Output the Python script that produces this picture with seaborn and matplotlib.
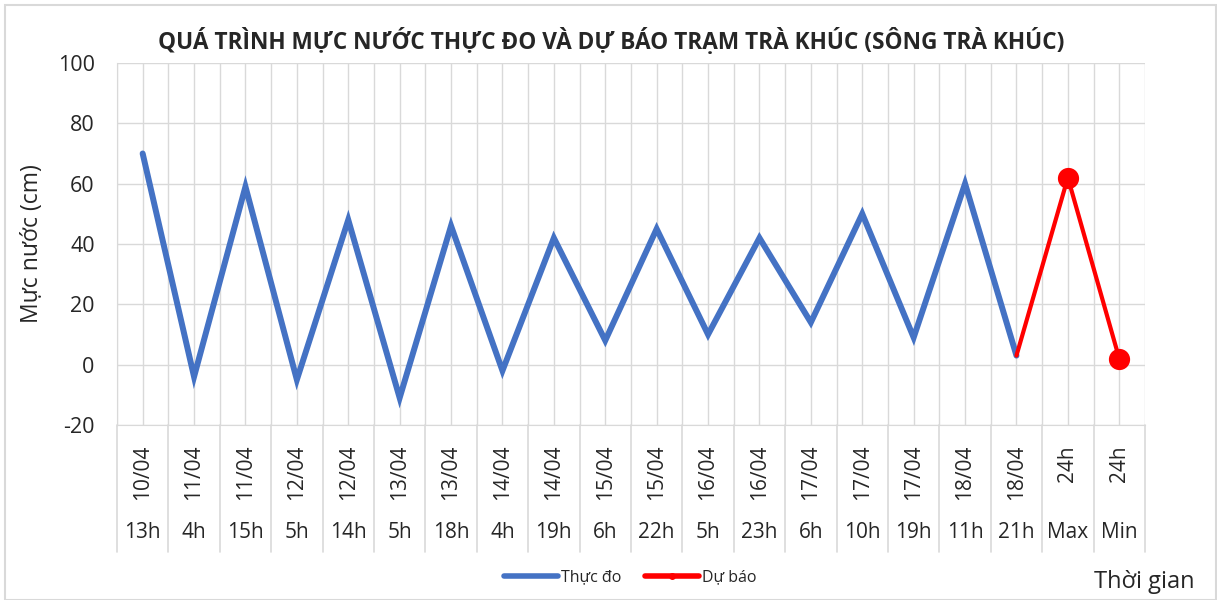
import pandas as pd
import matplotlib.pyplot as plt
import seaborn as sns
from matplotlib.lines import Line2D
from matplotlib.patches import Rectangle

# data
dates = ['10/04', '11/04', '11/04', '12/04', '12/04', '13/04', '13/04', '14/04', '14/04', '15/04',
         '15/04', '16/04', '16/04', '17/04', '17/04', '17/04', '18/04', '18/04', '24h', '24h']
hours = ['13h', '4h', '15h', '5h', '14h', '5h', '18h', '4h', '19h', '6h',
         '22h', '5h', '23h', '6h', '10h', '19h', '11h', '21h', 'Max', 'Min']
observed = [70, -4, 59, -5, 48, -11, 46, -2, 42, 8, 45, 10, 42, 14, 50, 9, 60, 3]
forecast = [3, 62, 2]

obs = pd.DataFrame({'x': range(len(observed)), 'y': observed})
fc = pd.DataFrame({'x': range(len(observed) - 1, len(dates)), 'y': forecast})

sns.set_style('white')
plt.rcParams['font.family'] = ['Open Sans', 'DejaVu Sans']
plt.rcParams['axes.unicode_minus'] = False

fig = plt.figure(figsize=(12.17, 6), dpi=100)
ax = fig.add_axes([0.0961, 0.2917, 0.8447, 0.6033])

blue = '#4472C4'
red = '#FF0000'
txt = '#262626'
sns.lineplot(data=obs, x='x', y='y', ax=ax, color=blue, lw=4.3, solid_capstyle='round',
             solid_joinstyle='miter')
sns.lineplot(data=fc, x='x', y='y', ax=ax, color=red, lw=3, solid_capstyle='round')
sns.scatterplot(data=fc.iloc[1:], x='x', y='y', ax=ax, color=red, s=200, edgecolor=red, zorder=5)

ax.set_xlim(-0.5, len(dates) - 0.5)
ax.set_ylim(-20, 100)
ax.set_yticks(range(-20, 101, 20))
ax.set_xticks(range(len(dates)))
ax.set_xticks([i - 0.5 for i in range(len(dates) + 1)], minor=True)
ax.set_xticklabels([])
ax.tick_params(axis='x', which='both', length=0)
ax.tick_params(axis='y', length=0, labelsize=15.5, pad=16, labelcolor=txt)
ax.grid(True, which='both', color='#d9d9d9', lw=1)
ax.set_axisbelow(True)
for s in ['top', 'right']:
    ax.spines[s].set_visible(False)
for s in ['left', 'bottom']:
    ax.spines[s].set_color('#d9d9d9')
ax.set_xlabel('')
ax.set_ylabel('Mực nước (cm)', fontsize=16.5, labelpad=10, color=txt)

# two-level category labels
trans = ax.get_xaxis_transform()
for i, (d, h) in enumerate(zip(dates, hours)):
    ax.text(i, -0.055, d, rotation=90, ha='center', va='top', fontsize=15,
            transform=trans, color=txt)
    ax.text(i, -0.298, h, ha='center', va='center', fontsize=15, transform=trans,
            color=txt)
for i in range(len(dates) + 1):
    ax.add_line(Line2D([i - 0.5, i - 0.5], [0, -0.351], transform=trans, color='#d9d9d9',
                       lw=1.2, clip_on=False))

fig.text(0.502, 0.93, 'QUÁ TRÌNH MỰC NƯỚC THỰC ĐO VÀ DỰ BÁO TRẠM TRÀ KHÚC (SÔNG TRÀ KHÚC)',
         ha='center', va='center', fontsize=16.3, fontweight='bold')
fig.text(0.94, 0.03, 'Thời gian', ha='center', va='center', fontsize=17, color=txt)

handles = [Line2D([], [], color=blue, lw=4, solid_capstyle='round'),
           Line2D([], [], color=red, lw=4, marker='o', markersize=4, solid_capstyle='round')]
fig.legend(handles, ['Thực đo', 'Dự báo'], loc='center', bbox_to_anchor=(0.518, 0.038),
           ncol=2, frameon=False, fontsize=11.5, handlelength=3.4, columnspacing=1.45,
           handletextpad=0.2)

fig.add_artist(Rectangle((0.004, 0.0), 0.995, 0.992, transform=fig.transFigure,
                         fill=False, edgecolor='#d9d9d9', lw=1.5))

plt.savefig('out.png', dpi=100)
